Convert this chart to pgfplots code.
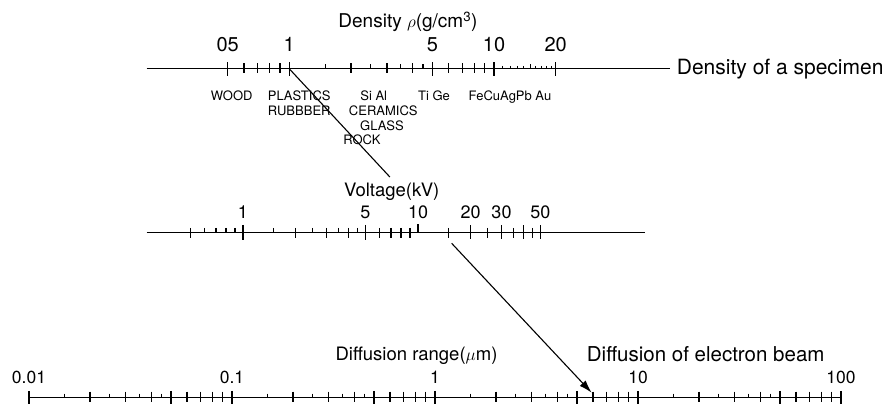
\documentclass[border=0pt]{standalone}
\usepackage{pgfplots}
\pgfplotsset{compat=1.18}
\usetikzlibrary{arrows.meta}
\usepackage{fontspec}
\setmainfont{TeX Gyre Heros}
\newcommand{\fs}[1]{\fontsize{#1}{#1}\selectfont}
\pgfplotsset{
  scalebase/.style={scale only axis, hide axis, ymin=-10, ymax=10,
    height=20pt, clip=false, anchor=south west},
  tk/.style={only marks, mark=|, black, line width=1.25pt, mark size=#1},
  axisline/.style={black, line width=1.3pt, mark=none},
}
\begin{document}
\begin{tikzpicture}
% ---------------- Density scale ----------------
\begin{axis}[xmode=log, scalebase, at={(146.7pt,-78.8pt)}, width=523.3pt, xmin=0.2011, xmax=72.4]
\addplot[axisline] coordinates {(0.2011,0) (72.4,0)};
\addplot[tk=6.7pt] coordinates {(0.5,0) (1,0) (5,0) (10,0) (20,0)};
\addplot[tk=5pt] coordinates {(0.6,0.7) (0.7,0.7) (0.8,0.7) (0.9,0.7) (2,0.7) (3,0.7) (4,0.7) (6,0.7) (7,0.7) (8,0.7) (9,0.7)};
\addplot[tk=2.4pt] coordinates {(1.5,2.4) (2.5,2.4) (3.5,2.4) (4.5,2.4)};
\addplot[tk=1.5pt, line width=1pt] coordinates {(11,1.5) (12,1.5) (13,1.5) (14,1.5) (16,1.5) (17,1.5) (18,1.5) (19,1.5)};
\addplot[tk=2.2pt, line width=1pt] coordinates {(15,2.2)};
\addplot[black, line width=1.1pt, mark=none] coordinates {(1,0) (3.10,-108.2)};
\node[anchor=base, font=\fs{20}] at (axis cs:0.5,17.8) {05};
\node[anchor=base, font=\fs{20}] at (axis cs:1,17.8) {1};
\node[anchor=base, font=\fs{20}] at (axis cs:5,17.8) {5};
\node[anchor=base, font=\fs{20}] at (axis cs:10,17.8) {10};
\node[anchor=base, font=\fs{20}] at (axis cs:20,17.8) {20};
\end{axis}
% ---------------- Voltage scale ----------------
\begin{axis}[xmode=log, scalebase, at={(146.7pt,-242.4pt)}, width=498.3pt, xmin=0.2817, xmax=198.2]
\addplot[axisline] coordinates {(0.2817,0) (198.2,0)};
\addplot[tk=7.6pt] coordinates {(1,0) (5,0)};
\addplot[tk=7pt] coordinates {(20,0) (30,0) (40,0) (50,0)};
\addplot[tk=5.3pt] coordinates {(0.5,-0.7) (2,-0.7) (3,-0.7) (4,-0.7) (6,-0.7) (7,-0.7) (8,-0.7) (9,-0.7) (15,-0.7) (25,-0.7) (35,-0.7) (45,-0.7)};
\addplot[tk=2.3pt] coordinates {(0.6,2.3) (0.7,2.3) (0.8,2.3) (0.9,2.3) (1.5,2.3) (2.5,2.3) (3.5,2.3) (4.5,2.3)};
\addplot[tk=4pt] coordinates {(10,4)};
\node[anchor=base, font=\fs{18}] at (axis cs:1,14.1) {1};
\node[anchor=base, font=\fs{18}] at (axis cs:5,14.1) {5};
\node[anchor=base, font=\fs{18}] at (axis cs:10,14.1) {10};
\node[anchor=base, font=\fs{18}] at (axis cs:20,14.1) {20};
\node[anchor=base, font=\fs{18}] at (axis cs:30,14.1) {30};
\node[anchor=base, font=\fs{18}] at (axis cs:50,14.1) {50};
\end{axis}
% ---------------- Diffusion range scale ----------------
\begin{axis}[xmode=log, scalebase, at={(29pt,-407.5pt)}, width=812pt, xmin=0.01, xmax=100]
\addplot[axisline] coordinates {(0.01,0) (100,0)};
\addplot[tk=6.7pt] coordinates {(0.01,0) (0.05,0) (0.1,0) (0.5,0) (1,0) (5,0) (10,0) (50,0) (100,0)};
\addplot[tk=5pt] coordinates {(0.02,1) (0.03,1) (0.04,1) (0.06,1) (0.07,1) (0.08,1) (0.09,1)
  (0.2,1) (0.3,1) (0.4,1) (0.6,1) (0.7,1) (0.8,1) (0.9,1)
  (2,1) (3,1) (4,1) (6,1) (7,1) (8,1) (9,1)
  (20,1) (30,1) (40,1) (60,1) (70,1) (80,1) (90,1)};
\addplot[tk=1.9pt] coordinates {(0.015,1.9) (0.025,1.9) (0.035,1.9) (0.045,1.9)
  (0.15,1.9) (0.25,1.9) (0.35,1.9) (0.45,1.9)
  (1.5,1.9) (2.5,1.9) (3.5,1.9) (4.5,1.9)
  (15,1.9) (25,1.9) (35,1.9) (45,1.9)};
\addplot[black, line width=1.1pt, mark=none, -{Latex[length=13pt,width=8pt]}] coordinates {(1.208,154.2) (5.913,4.8)};
\node[anchor=base, font=\fs{17.5}] at (axis cs:0.01,14.2) {0.01};
\node[anchor=base, font=\fs{17.5}] at (axis cs:0.1,14.2) {0.1};
\node[anchor=base, font=\fs{17.5}] at (axis cs:1,14.2) {1};
\node[anchor=base, font=\fs{17.5}] at (axis cs:10,14.2) {10};
\node[anchor=base, font=\fs{17.5}] at (axis cs:100,14.2) {100};
\end{axis}
% ---------------- titles and labels ----------------
\node[anchor=base, font=\fs{19}, inner sep=0pt] at (408pt,-27.3pt) {Density $\rho$(g/cm\textsuperscript{3})};
\node[anchor=base west, font=\fs{21}, inner sep=0pt] at (676.7pt,-74.3pt) {Density of a specimen};
\node[anchor=base, font=\fs{18.5}, inner sep=0pt] at (391.7pt,-196pt) {Voltage(kV)};
\node[anchor=base, font=\fs{18.5}, inner sep=0pt] at (416.5pt,-360pt) {Diffusion range($\mu$m)};
\node[anchor=base west, font=\fs{20.5}, inner sep=0pt] at (586.7pt,-361.7pt) {Diffusion of electron beam};
\begin{scope}[every node/.style={font=\fs{13}, inner sep=0pt}]
\node[anchor=base] at (231.7pt,-100.7pt) {WOOD};
\node[anchor=base west] at (267.7pt,-100.7pt) {PLASTICS};
\node[anchor=base west] at (267.7pt,-115.3pt) {RUBBBER};
\node[anchor=base] at (373.7pt,-100.7pt) {Si Al};
\node[anchor=base] at (383.3pt,-115.3pt) {CERAMICS};
\node[anchor=base] at (382pt,-130pt) {GLASS};
\node[anchor=base] at (362pt,-144.7pt) {ROCK};
\node[anchor=base] at (434pt,-100.7pt) {Ti Ge};
\node[anchor=base] at (510pt,-100.7pt) {FeCuAgPb Au};
\end{scope}
\pgfresetboundingbox
\path[use as bounding box] (0pt,0pt) rectangle (884pt,-405pt);
\end{tikzpicture}
\end{document}
